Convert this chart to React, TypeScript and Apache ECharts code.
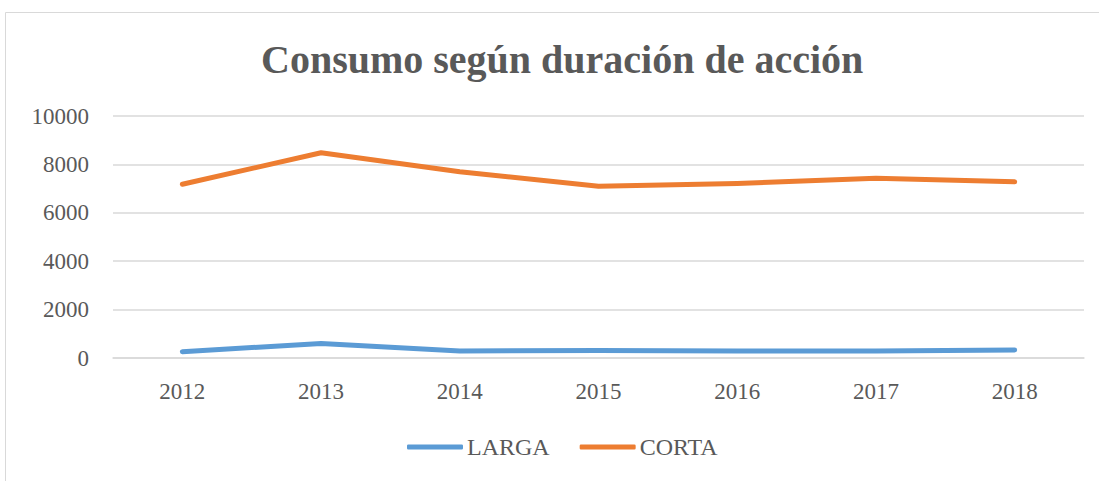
import React, { useEffect, useRef } from "react";
import * as echarts from "echarts";

const years = ["2012", "2013", "2014", "2015", "2016", "2017", "2018"];
const larga = [260, 600, 290, 315, 290, 290, 330];
const corta = [7180, 8480, 7700, 7100, 7210, 7430, 7280];
const yTicks = { min: 0, max: 10000, interval: 2000 };

const FONT = "'Liberation Serif', 'DejaVu Serif', serif";

export default function App() {
  const ref = useRef<HTMLDivElement>(null);
  useEffect(() => {
    if (!ref.current) return;
    const chart = echarts.init(ref.current, undefined, { renderer: "svg" });
    chart.setOption({
      animation: false,
      backgroundColor: "#ffffff",
      title: {
        text: "Consumo según duración de acción",
        left: 256,
        top: 34,
        textStyle: { fontFamily: FONT, fontSize: 40, fontWeight: "bold", color: "#595959" },
      },
      graphic: [
        {
          type: "rect",
          shape: { x: 5.5, y: 12.5, width: 1200, height: 600 },
          style: { fill: "none", stroke: "#d9d9d9", lineWidth: 1 },
          silent: true,
        },
      ],
      legend: {
        bottom: 17,
        left: 402,
        itemWidth: 56,
        itemHeight: 5,
        itemGap: 30,
        icon: "roundRect",
        textStyle: { fontFamily: FONT, fontSize: 24, color: "#595959", padding: [0, 0, 0, -1] },
        data: ["LARGA", "CORTA"],
      },
      grid: { left: 113, right: 15, top: 116, bottom: 123 },
      xAxis: {
        type: "category",
        data: years,
        boundaryGap: true,
        axisLine: { show: true, lineStyle: { color: "#d9d9d9", width: 1.5 } },
        axisTick: { show: false },
        axisLabel: { fontFamily: FONT, fontSize: 23, color: "#595959", margin: 22 },
      },
      yAxis: {
        type: "value",
        min: yTicks.min,
        max: yTicks.max,
        interval: yTicks.interval,
        axisLine: { show: false },
        axisTick: { show: false },
        axisLabel: {
          fontFamily: FONT,
          fontSize: 23,
          color: "#595959",
          margin: 24,
          formatter: (v: number) => String(v),
        },
        splitLine: { lineStyle: { color: "#d9d9d9", width: 1.5 } },
      },
      series: [
        {
          name: "LARGA",
          type: "line",
          data: larga,
          symbol: "none",
          lineStyle: { color: "#5B9BD5", width: 5, cap: "round", join: "round" },
          itemStyle: { color: "#5B9BD5" },
        },
        {
          name: "CORTA",
          type: "line",
          data: corta,
          symbol: "none",
          lineStyle: { color: "#ED7D31", width: 5, cap: "round", join: "round" },
          itemStyle: { color: "#ED7D31" },
        },
      ],
    });
    return () => chart.dispose();
  }, []);
  return (
    <div
      ref={ref}
      style={{ position: "absolute", left: 0, top: 0, width: 1099, height: 481 }}
    />
  );
}
